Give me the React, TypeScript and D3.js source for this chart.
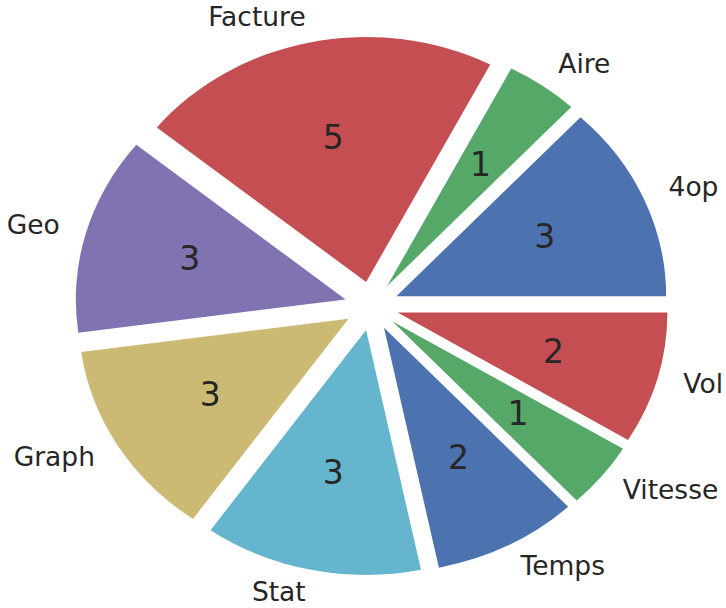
import * as React from "react";
import * as d3 from "d3";

const labels = ["4op", "Aire", "Facture", "Geo", "Graph", "Stat", "Temps", "Vitesse", "Vol"];
const counts = [3, 1, 5, 3, 3, 3, 2, 1, 2];
const colors = ["#4C72B0", "#55A868", "#C44E52", "#8172B2", "#CCB974", "#64B5CD", "#4C72B0", "#55A868", "#C44E52"];

const width = 726;
const height = 608;
const cx = 371.6;
const cy = 306;
const rx = 269.8;
const ry = 245;
const explode = 0.1;

const App: React.FC = () => {
  const pie = d3
    .pie<number>()
    .sort(null)
    .startAngle(Math.PI / 2)
    .endAngle(Math.PI / 2 - 2 * Math.PI);
  const arcs = pie(counts);
  const arc = d3.arc<d3.PieArcDatum<number>>().innerRadius(0).outerRadius(ry);

  // point on the ellipse at d3 angle a, scaled by k
  const pt = (a: number, k: number) => [rx * k * Math.sin(a), -ry * k * Math.cos(a)];

  return (
    <svg width={width} height={height} style={{ position: "absolute", left: 0, top: 0, background: "#fff" }}>
      {arcs.map((d, i) => {
        const m = (d.startAngle + d.endAngle) / 2;
        const [ox, oy] = pt(m, explode);
        const [lx, ly] = pt(m, explode + 1.1);
        const [px, py] = pt(m, explode + 0.6);
        return (
          <g key={labels[i]}>
            <path
              d={arc(d) || ""}
              fill={colors[i]}
              transform={`translate(${cx + ox},${cy + oy}) scale(${rx / ry},1)`}
            />
            <text
              x={cx + lx}
              y={cy + ly - 2}
              textAnchor={lx > 0 ? "start" : "end"}
              dominantBaseline="central"
              fontFamily="DejaVu Sans"
              fontSize={26.5}
              fill="#262626"
            >
              {labels[i]}
            </text>
            <text
              x={cx + px}
              y={cy + py - 1}
              textAnchor="middle"
              dominantBaseline="central"
              fontFamily="DejaVu Sans"
              fontSize={33}
              fill="#262626"
            >
              {counts[i]}
            </text>
          </g>
        );
      })}
    </svg>
  );
};

export default App;
